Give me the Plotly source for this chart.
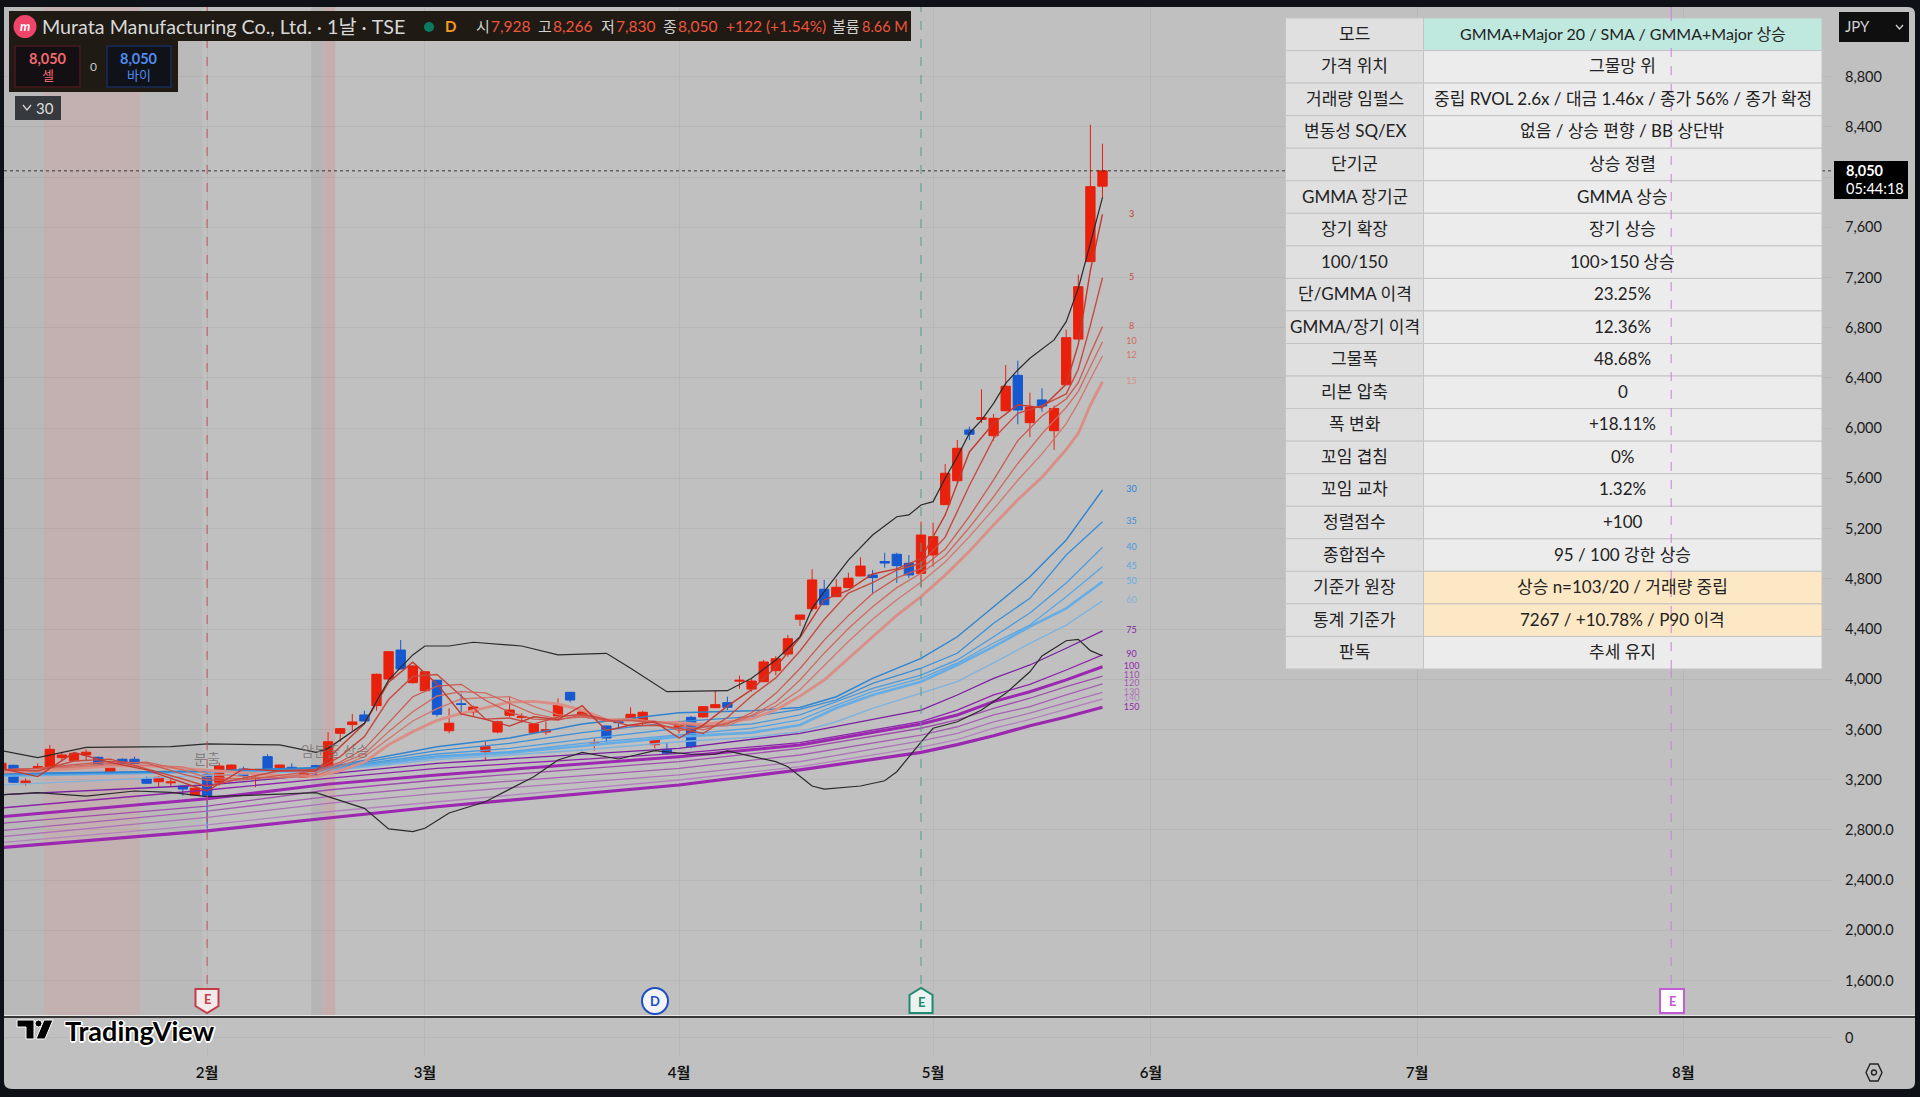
import plotly.graph_objects as go

W, H = 1920, 1097
BAR0_PX, BAR_STEP = 1.4, 12.1
FONT = "Lato, Noto Sans CJK KR, sans-serif"

# candles
opens = [3285, 3315, 3176, 3298, 3296, 3376, 3352, 3397, 3379, 3251, 3363, 3363, 3206, 3184, 3175, 3150, 3078, 3238,
         3180, 3278, 3285, 3208, 3384, 3296, 3299, 3219, 3312, 3296, 3570, 3639, 3716, 3790, 4002, 4233, 3973, 3909,
         3992, 3590, 3805, 3740, 3423, 3580, 3713, 3695, 3575, 3580, 3708, 3896, 3705, 3493, 3628, 3662, 3681, 3662,
         3479, 3442, 3618, 3697, 3700, 3774, 3814, 3985, 3922, 3981, 4069, 4201, 4478, 4562, 4717, 4658, 4730, 4823,
         4831, 4938, 4996, 4924, 4844, 4990, 5391, 5582, 5986, 6070, 5940, 6139, 6421, 6044, 6225, 5980, 6346, 6710,
         7327, 7928]
highs = [3345, 3320, 3211, 3331, 3476, 3423, 3415, 3442, 3384, 3295, 3370, 3384, 3224, 3228, 3204, 3155, 3140, 3251,
         3336, 3320, 3304, 3264, 3403, 3320, 3331, 3291, 3320, 3578, 3612, 3724, 3750, 4045, 4225, 4313, 4112, 4065,
         3995, 3769, 3885, 3790, 3503, 3670, 3857, 3729, 3650, 3662, 3849, 3900, 3761, 3530, 3632, 3689, 3777, 3750,
         3525, 3498, 3670, 3708, 3785, 3909, 3861, 4029, 4008, 4154, 4185, 4353, 4512, 4876, 4791, 4797, 4849, 4972,
         4871, 5008, 5008, 4990, 5255, 5247, 5715, 5906, 6012, 6310, 6113, 6503, 6538, 6283, 6318, 6180, 6785, 7223,
         8417, 8266]
lows = [3270, 3175, 3153, 3272, 3290, 3357, 3345, 3357, 3300, 3245, 3309, 3320, 3168, 3144, 3150, 3073, 3075, 2810,
        3153, 3270, 3200, 3140, 3275, 3278, 3275, 3215, 3238, 3238, 3503, 3590, 3665, 3750, 4000, 4082, 3965, 3905,
        3702, 3570, 3713, 3708, 3349, 3570, 3700, 3654, 3570, 3556, 3670, 3817, 3697, 3431, 3495, 3602, 3676, 3636,
        3450, 3397, 3570, 3450, 3695, 3770, 3755, 3925, 3901, 3978, 4034, 4180, 4425, 4540, 4594, 4655, 4728, 4820,
        4677, 4889, 4767, 4807, 4738, 4897, 5388, 5564, 5906, 6042, 5900, 6135, 6031, 5930, 6132, 5827, 6343, 6705,
        7325, 7830]
closes = [3331, 3180, 3190, 3304, 3442, 3397, 3410, 3419, 3304, 3291, 3331, 3331, 3172, 3219, 3182, 3126, 3132, 3073,
          3309, 3317, 3232, 3213, 3278, 3317, 3283, 3251, 3278, 3503, 3607, 3660, 3668, 4040, 4220, 4082, 4106, 4060,
          3721, 3650, 3800, 3779, 3463, 3662, 3755, 3703, 3644, 3599, 3795, 3835, 3740, 3497, 3532, 3655, 3721, 3737,
          3525, 3410, 3660, 3463, 3782, 3798, 3777, 3992, 3986, 4138, 4164, 4323, 4512, 4791, 4594, 4733, 4805, 4902,
          4810, 4926, 4905, 4831, 5149, 5136, 5641, 5840, 5952, 6085, 6079, 6334, 6145, 6166, 6177, 6157, 6721, 7127,
          7924, 8050]
bars = list(range(len(closes)))

# short group
short_bars = [0, 3, 6, 9, 12, 15, 17, 20, 23, 26, 28, 30, 32, 34, 36, 38, 40, 42, 44, 46, 48, 50, 52, 54, 56, 58, 60,
              62, 64, 66, 68, 70, 72, 74, 76, 78, 80, 82, 84, 86, 88, 89, 90, 91]
ma3 = [3290, 3225, 3416, 3338, 3278, 3176, 3110, 3286, 3269, 3271, 3463, 3645, 3976, 4136, 3962, 3724, 3681, 3627,
       3701, 3679, 3790, 3590, 3636, 3661, 3532, 3635, 3786, 3918, 4096, 4333, 4632, 4711, 4839, 4880, 4962, 5309,
       5811, 6039, 6186, 6163, 6352, 6668, 7257, 7704]
ma5 = [3280, 3270, 3349, 3364, 3286, 3206, 3146, 3213, 3271, 3281, 3384, 3543, 3839, 4023, 4038, 3867, 3683, 3692,
       3645, 3699, 3723, 3680, 3629, 3634, 3611, 3568, 3696, 3867, 4011, 4225, 4477, 4687, 4770, 4870, 4924, 5132,
       5544, 5919, 6119, 6180, 6273, 6470, 6821, 7199]
ma8 = [3280, 3290, 3320, 3345, 3332, 3245, 3196, 3199, 3234, 3271, 3341, 3446, 3653, 3861, 3945, 3960, 3833, 3736,
       3682, 3675, 3717, 3668, 3672, 3655, 3592, 3619, 3644, 3733, 3888, 4086, 4312, 4507, 4684, 4808, 4883, 5037,
       5297, 5589, 5901, 6097, 6233, 6363, 6594, 6809]
ma10 = [3280, 3290, 3310, 3330, 3340, 3279, 3216, 3209, 3218, 3255, 3328, 3406, 3583, 3742, 3867, 3901, 3892, 3808,
        3724, 3685, 3698, 3676, 3672, 3664, 3631, 3598, 3653, 3713, 3817, 3994, 4208, 4404, 4577, 4730, 4845, 4984,
        5209, 5454, 5719, 5956, 6166, 6294, 6492, 6689]
ma12 = [3275, 3285, 3300, 3320, 3314, 3302, 3249, 3226, 3214, 3234, 3305, 3384, 3527, 3668, 3766, 3843, 3854, 3862,
        3785, 3719, 3702, 3667, 3678, 3665, 3642, 3630, 3630, 3709, 3786, 3917, 4110, 4301, 4479, 4634, 4773, 4935,
        5136, 5355, 5585, 5795, 6036, 6202, 6392, 6575]
ma15 = [3260, 3270, 3290, 3310, 3310, 3290, 3276, 3257, 3235, 3225, 3273, 3341, 3478, 3583, 3672, 3729, 3776, 3818,
        3824, 3803, 3754, 3678, 3679, 3658, 3654, 3640, 3662, 3685, 3756, 3866, 3994, 4168, 4340, 4510, 4658, 4830,
        5020, 5230, 5430, 5610, 5830, 5960, 6185, 6370]

# middle group
mid_bars = [0, 17, 27, 36, 42, 48, 56, 62, 66, 69, 72, 76, 79, 82, 85, 88, 91]
ma30 = [3250, 3270, 3300, 3463, 3532, 3644, 3734, 3750, 3775, 3861, 4008, 4167, 4339, 4578, 4817, 5110, 5508]
ma35 = [3245, 3268, 3295, 3431, 3490, 3575, 3662, 3702, 3760, 3836, 3968, 4088, 4207, 4446, 4645, 4990, 5255]
ma40 = [3240, 3265, 3290, 3405, 3450, 3522, 3610, 3644, 3716, 3822, 3928, 4034, 4154, 4339, 4528, 4767, 5051]
ma45 = [3235, 3262, 3285, 3389, 3423, 3490, 3557, 3610, 3676, 3795, 3901, 4008, 4130, 4289, 4432, 4658, 4897]
ma50 = [3232, 3260, 3282, 3379, 3415, 3469, 3543, 3575, 3636, 3771, 3875, 3981, 4114, 4260, 4419, 4565, 4777]
ma60 = [3158, 3235, 3270, 3360, 3397, 3437, 3503, 3538, 3583, 3662, 3769, 3888, 3981, 4130, 4287, 4432, 4624]

# long group
long_bars = [0, 17, 27, 36, 56, 66, 76, 79, 82, 85, 88, 91]
ma75 = [3080, 3158, 3246, 3331, 3450, 3570, 3755, 3875, 4008, 4114, 4247, 4385]
ma90 = [2975, 3118, 3211, 3291, 3410, 3495, 3662, 3755, 3875, 3960, 4074, 4194]
ma100 = [2906, 3048, 3165, 3238, 3384, 3476, 3644, 3716, 3822, 3901, 3995, 4100]
ma110 = [2853, 2990, 3118, 3198, 3344, 3450, 3610, 3676, 3769, 3849, 3941, 4026]
ma120 = [2794, 2950, 3065, 3144, 3291, 3397, 3556, 3622, 3716, 3782, 3875, 3963]
ma130 = [2746, 2900, 3012, 3092, 3238, 3344, 3510, 3570, 3660, 3730, 3815, 3896]
ma140 = [2700, 2840, 2945, 3025, 3198, 3304, 3460, 3520, 3610, 3680, 3760, 3843]
ma150 = [2659, 2792, 2895, 2985, 3158, 3278, 3418, 3480, 3550, 3630, 3700, 3777]

# bollinger
bb_up_bars = [0, 3, 7, 14, 17, 23, 26, 27, 30, 32, 34, 35, 37, 39, 43, 46, 50, 52, 55, 60, 62, 64, 66, 67, 68, 70, 72,
              74, 75, 76, 77, 78, 79, 80, 81, 82, 83, 84, 85, 86, 87, 88, 89, 90, 91]
bb_up = [3431, 3376, 3458, 3463, 3485, 3477, 3418, 3450, 3650, 3994, 4194, 4265, 4265, 4295, 4265, 4194, 4207, 4088,
         3901, 3909, 4008, 4154, 4340, 4565, 4698, 4950, 5149, 5295, 5309, 5388, 5415, 5601, 5773, 5960, 6065, 6198,
         6357, 6464, 6557, 6631, 6703, 6849, 7115, 7473, 7839]
bb_lo_bars = [0, 3, 7, 11, 14, 17, 22, 26, 27, 30, 32, 34, 35, 37, 40, 44, 46, 48, 51, 54, 57, 59, 60, 64, 65, 67, 68,
              71, 73, 74, 76, 77, 79, 81, 83, 85, 86, 88, 89, 90, 91]
bb_lo = [3081, 3097, 3070, 3110, 3100, 3065, 3081, 3097, 3065, 2972, 2808, 2786, 2813, 2935, 3025, 3224, 3357, 3418,
         3365, 3431, 3403, 3403, 3429, 3344, 3304, 3150, 3126, 3150, 3192, 3264, 3500, 3610, 3662, 3755, 3888, 4060,
         4186, 4307, 4318, 4228, 4188]

# axis ticks, 8000 sits behind the last price box
price_ticks = [8800, 8400, 8000, 7600, 7200, 6800, 6400, 6000, 5600, 5200, 4800, 4400, 4000, 3600, 3200, 2800, 2400,
               2000, 1600]
price_labels = ["8,800", "8,400", "", "7,600", "7,200", "6,800", "6,400", "6,000", "5,600", "5,200", "4,800",
                "4,400", "4,000", "3,600", "3,200", "2,800.0", "2,400.0", "2,000.0", "1,600.0"]
month_bars = [17, 35, 56, 77, 95, 117, 139]
month_labels = ["2월", "3월", "4월", "5월", "6월", "7월", "8월"]

table_labels = ["모드", "가격 위치", "거래량 임펄스", "변동성 SQ/EX", "단기군", "GMMA 장기군", "장기 확장", "100/150",
                "단/GMMA 이격", "GMMA/장기 이격", "그물폭", "리본 압축", "폭 변화", "꼬임 겹침", "꼬임 교차",
                "정렬점수", "종합점수", "기준가 원장", "통계 기준가", "판독"]
table_values = ["GMMA+Major 20 / SMA / GMMA+Major 상승", "그물망 위",
                "중립 RVOL 2.6x / 대금 1.46x / 종가 56% / 종가 확정", "없음 / 상승 편향 / BB 상단밖", "상승 정렬",
                "GMMA 상승", "장기 상승", "100>150 상승", "23.25%", "12.36%", "48.68%", "0", "+18.11%", "0%", "1.32%",
                "+100", "95 / 100 강한 상승", "상승 n=103/20 / 거래량 중립", "7267 / +10.78% / P90 이격", "추세 유지"]

fig = go.Figure()


def px(x):
    return x / W


def py(y):
    return 1 - y / H


shapes = []
notes = []


def box(x0, y0, x1, y1, fill, line=None, width=1, layer="above"):
    shapes.append(dict(type="rect", xref="paper", yref="paper", x0=px(x0), x1=px(x1), y0=py(y1), y1=py(y0),
                       fillcolor=fill, line=dict(color=line or fill, width=width if line else 0), layer=layer))


def path(points, fill=None, line=None, width=1, layer="above", close=True):
    d = "M " + " L ".join(f"{px(a):.5f},{py(b):.5f}" for a, b in points) + (" Z" if close else "")
    shapes.append(dict(type="path", xref="paper", yref="paper", path=d, fillcolor=fill or "rgba(0,0,0,0)",
                       line=dict(color=line or "rgba(0,0,0,0)", width=width), layer=layer))


def note(x, y, text, size=15, color="#222222", anchor="left", **kw):
    notes.append(dict(xref="paper", yref="paper", x=px(x), y=py(y), text=text, showarrow=False, xanchor=anchor,
                      yanchor="middle", font=dict(family=FONT, size=size, color=color, **kw)))


# background card
shapes.append(dict(type="path", xref="paper", yref="paper", layer="below", fillcolor="#c0c0c0", line=dict(width=0),
                   path=f"M {px(12)},{py(7)} L {px(1908)},{py(7)} Q {px(1915)},{py(7)} {px(1915)},{py(14)} "
                        f"L {px(1915)},{py(1082)} Q {px(1915)},{py(1089)} {px(1908)},{py(1089)} "
                        f"L {px(12)},{py(1089)} Q {px(4)},{py(1089)} {px(4)},{py(1082)} "
                        f"L {px(4)},{py(14)} Q {px(4)},{py(7)} {px(12)},{py(7)} Z"))

# session bands
band_starts = [0.2, 3.5, 11.5, 25.6, 26.6]
band_ends = [3.5, 11.5, 16.6, 26.6, 27.6]
band_colors = ["#b9b9b9", "#c3b0b0", "#bababa", "#b5b5b5", "#c7aeae"]
for a, b, c in zip(band_starts, band_ends, band_colors):
    shapes.append(dict(type="rect", xref="x", yref="y domain", x0=a, x1=b, y0=0, y1=1, fillcolor=c,
                       line=dict(width=0), layer="below"))

fig.add_trace(go.Candlestick(x=bars, open=opens, high=highs, low=lows, close=closes,
                             increasing=dict(line=dict(color="#e8200c", width=1), fillcolor="#e8200c"),
                             decreasing=dict(line=dict(color="#1558d0", width=1), fillcolor="#1558d0"),
                             whiskerwidth=0, hoverinfo="skip"))

series = [
    (long_bars, ma150, "150", "#9c27b0", 3.2), (long_bars, ma140, "140", "#b582c0", 1.3),
    (long_bars, ma130, "130", "#ae72b9", 1.3), (long_bars, ma120, "120", "#a75fb3", 1.3),
    (long_bars, ma110, "110", "#a04dad", 1.3), (long_bars, ma100, "100", "#9c27b0", 3.0),
    (long_bars, ma90, "90", "#8e24aa", 1.3), (long_bars, ma75, "75", "#7b1fa2", 1.3),
    (mid_bars, ma60, "60", "#7fb3de", 1.4), (mid_bars, ma50, "50", "#66ade6", 2.6),
    (mid_bars, ma45, "45", "#5aa6e2", 1.3), (mid_bars, ma40, "40", "#4a9ade", 1.3),
    (mid_bars, ma35, "35", "#3a8ed8", 1.3), (mid_bars, ma30, "30", "#2e84d0", 1.4),
    (short_bars, ma15, "15", "#d98f86", 2.9), (short_bars, ma12, "12", "#d3766e", 1.3),
    (short_bars, ma10, "10", "#cf6a60", 1.3), (short_bars, ma8, "8", "#cb5a50", 1.3),
    (short_bars, ma5, "5", "#c84a40", 1.4), (short_bars, ma3, "3", "#c43a30", 1.4),
]
for xs, ys, name, color, lw in series:
    fig.add_trace(go.Scatter(x=xs, y=ys, mode="lines", line=dict(color=color, width=lw), hoverinfo="skip"))

fig.add_trace(go.Scatter(x=bb_up_bars, y=bb_up, mode="lines", line=dict(color="#2a2a2a", width=1.2), hoverinfo="skip"))
fig.add_trace(go.Scatter(x=bb_lo_bars, y=bb_lo, mode="lines", line=dict(color="#2a2a2a", width=1.2), hoverinfo="skip"))

# length tags right of the lines
fig.add_trace(go.Scatter(x=[93.4] * len(series), y=[s[1][-1] for s in series], mode="text",
                         text=[s[2] for s in series], textposition="middle center", hoverinfo="skip",
                         textfont=dict(family=FONT, size=9, color=[s[3] for s in series])))

# empty lower pane needs something on its axes
fig.add_trace(go.Scatter(x=[0], y=[0], xaxis="x2", yaxis="y2", mode="markers", marker=dict(opacity=0),
                         hoverinfo="skip"))

# event lines
event_bars = [17, 76, 138]
event_colors = ["#c4505a", "#4f9d8e", "#cf7bdf"]
for b, c in zip(event_bars, event_colors):
    shapes.append(dict(type="line", xref="x", yref="paper", x0=b, x1=b, y0=py(984), y1=py(7),
                       line=dict(color=c, width=1, dash="dash"), layer="above"))

# last price line
shapes.append(dict(type="line", xref="paper", yref="y", x0=px(4), x1=px(1833), y0=closes[-1], y1=closes[-1],
                   line=dict(color="#333333", width=1, dash="dot"), layer="above"))

# table
TX0, TX1, TX2 = 1285.5, 1423.5, 1822
TY0, ROW = 18, 32.55
for i, (lab, val) in enumerate(zip(table_labels, table_values)):
    y0 = TY0 + i * ROW
    y1 = y0 + ROW
    val_fill = "#bfe8de" if i == 0 else "#fce8c4" if i in (17, 18) else "#ececec"
    box(TX0, y0, TX1, y1, "#e0e0e0", "#c4c4c4", 1)
    box(TX1, y0, TX2, y1, val_fill, "#c4c4c4", 1)
    note((TX0 + TX1) / 2, y0 + ROW / 2 - 1, lab, size=17, anchor="center")
    note((TX1 + TX2) / 2, y0 + ROW / 2 - 1, val, size=16 if i == 0 else 17, anchor="center")
shapes.append(dict(type="line", xref="x", yref="paper", x0=138, x1=138, y0=py(669), y1=py(7),
                   line=dict(color="#cf7bdf", width=1, dash="dash"), layer="above"))

# legend strip
box(9, 11, 911, 41, "#1f1a14")
box(9, 41, 178, 92, "#1f1a14")
shapes.append(dict(type="circle", xref="paper", yref="paper", x0=px(13.5), x1=px(36.5), y0=py(38), y1=py(15),
                   fillcolor="#f0456b", line=dict(width=0), layer="above"))
note(25, 26.5, "<i><b>m</b></i>", size=13, color="#ffffff", anchor="center")
note(40, 26.5, "Murata Manufacturing Co., Ltd. · 1날 · TSE", size=19.7, color="#d8d8d8")
shapes.append(dict(type="circle", xref="paper", yref="paper", x0=px(424), x1=px(434), y0=py(32), y1=py(22),
                   fillcolor="#0a7a60", line=dict(width=0), layer="above"))
note(450, 26.5, "<b>D</b>", size=15, color="#f59a23", anchor="center")
ohlc_letters = ["시", "고", "저", "종"]
ohlc_text = ["7,928", "8,266", "7,830", "8,050"]
ohlc_px = [474, 536, 599, 661]
for a, t, x in zip(ohlc_letters, ohlc_text, ohlc_px):
    note(x, 26.5, a, size=15, color="#d0d0d0")
    note(x + 15, 26.5, t, size=15.5, color="#f0553c")
note(724, 26.5, "+122 (+1.54%)", size=15.5, color="#f0553c")
note(830, 26.5, "볼륨", size=15, color="#d0d0d0")
note(860, 26.5, "8.66 M", size=14.5, color="#f0553c")

box(15, 46, 80, 87, "#140f12", "#4a1a1f", 1.5)
box(107, 46, 171, 87, "#0f1218", "#1a2d5a", 1.5)
note(47.5, 59, "<b>8,050</b>", size=14.5, color="#f06a70", anchor="center")
note(47.5, 75, "셀", size=13, color="#f06a70", anchor="center")
note(139, 59, "<b>8,050</b>", size=14.5, color="#4f8cf0", anchor="center")
note(139, 75, "바이", size=13, color="#4f8cf0", anchor="center")
note(93, 66, "0", size=12, color="#c8c8c8", anchor="center")

box(15, 96, 61, 120, "#36393d")
path([(23, 105), (27, 110), (31, 105)], line="#d8d8d8", width=1.3, close=False)
note(34, 108, "30", size=15, color="#dddddd")

# price axis overlays
box(1839, 12, 1909, 42, "#0f0f10")
note(1843, 26.5, "JPY", size=15, color="#d0d0d0")
path([(1896, 25), (1899.5, 29), (1903, 25)], line="#d0d0d0", width=1.3, close=False)
box(1834, 161, 1908, 199, "#000000")
note(1844, 171, "<b>8,050</b>", size=14.5, color="#ffffff")
note(1844, 188, "05:44:18", size=14.5, color="#ffffff")

# pane divider
shapes.append(dict(type="line", xref="paper", yref="paper", x0=px(4), x1=px(1915), y0=py(1015.5), y1=py(1015.5),
                   line=dict(color="#e8e8e8", width=1), layer="above"))
shapes.append(dict(type="line", xref="paper", yref="paper", x0=px(4), x1=px(1915), y0=py(1017), y1=py(1017),
                   line=dict(color="#0a0a0a", width=1.6), layer="above"))

# event flags
path([(195.5, 989), (218.5, 989), (218.5, 1006), (207, 1013), (195.5, 1006)], fill="#f3eaea", line="#c43b4a", width=2)
note(207, 999, "<b>E</b>", size=13, color="#c43b4a", anchor="center")
path([(909.5, 1013), (932.5, 1013), (932.5, 995), (921, 988), (909.5, 995)], fill="#eaf3f0", line="#1f8a70", width=2)
note(921, 1002, "<b>E</b>", size=13, color="#1f8a70", anchor="center")
box(1660, 989, 1684, 1013, "#ffffff", "#c45ad6", 2)
note(1672, 1001, "<b>E</b>", size=13, color="#c45ad6", anchor="center")
shapes.append(dict(type="circle", xref="paper", yref="paper", x0=px(642), x1=px(668), y0=py(1014), y1=py(988),
                   fillcolor="#f2f4fa", line=dict(color="#1f4fbf", width=2), layer="above"))
note(655, 1001, "<b>D</b>", size=13, color="#1f4fbf", anchor="center")

# signal words on the chart
note(207, 759, "분출", size=14, color="rgba(110,110,110,0.8)", anchor="center")
note(335, 750, "암분출 상승", size=14, color="rgba(120,110,110,0.75)", anchor="center")

# watermark
halo = "-1px -1px 0 #fff, 1px -1px 0 #fff, -1px 1px 0 #fff, 1px 1px 0 #fff, 0 2px 0 #fff, 2px 0 0 #fff"
path([(17, 1020), (34, 1020), (34, 1039), (26, 1039), (26, 1027), (17, 1027)], fill="#000000", line="#ffffff", width=1)
shapes.append(dict(type="circle", xref="paper", yref="paper", x0=px(35), x1=px(42), y0=py(1027), y1=py(1020),
                   fillcolor="#000000", line=dict(color="#ffffff", width=1), layer="above"))
path([(44, 1020), (53, 1020), (45, 1039), (36, 1039)], fill="#000000", line="#ffffff", width=1)
note(63, 1030, "<b>TradingView</b>", size=27, color="#000000", shadow=halo)

# settings glyph
path([(1866, 1072.5), (1870, 1064), (1878, 1064), (1882, 1072.5), (1878, 1081), (1870, 1081)], line="#222222",
     width=1.4)
shapes.append(dict(type="circle", xref="paper", yref="paper", x0=px(1871.5), x1=px(1876.5), y0=py(1075), y1=py(1070),
                   line=dict(color="#222222", width=1.4), layer="above"))

grid = "rgba(0,0,0,0.045)"
x_range = [(4 - BAR0_PX) / BAR_STEP, (1833 - BAR0_PX) / BAR_STEP]
fig.update_layout(
    width=W, height=H, margin=dict(l=0, r=0, t=0, b=0), autosize=False,
    paper_bgcolor="#0e1115", plot_bgcolor="rgba(0,0,0,0)", showlegend=False, boxgap=0.23, boxgroupgap=0,
    font=dict(family=FONT, size=14, color="#1a1a1a"),
    xaxis=dict(domain=[px(4), px(1833)], range=x_range, anchor="y", showticklabels=False, tickvals=month_bars,
               showgrid=True, gridcolor=grid, zeroline=False, showline=False, ticks="", rangeslider=dict(visible=False)),
    yaxis=dict(domain=[py(1016), py(7)], range=[1318, 9355], side="right", anchor="x", tickvals=price_ticks,
               ticktext=price_labels, showgrid=True, gridcolor=grid, zeroline=False, showline=False, ticks="",
               ticklabelstandoff=11, tickfont=dict(family=FONT, size=14.5, color="#1a1a1a")),
    xaxis2=dict(domain=[px(4), px(1833)], range=x_range, anchor="y2", tickvals=month_bars, ticktext=month_labels,
                showgrid=True, gridcolor=grid, zeroline=False, showline=False, ticks="", ticklabelstandoff=5,
                tickfont=dict(family=FONT, size=15, color="#111111", weight=600)),
    yaxis2=dict(domain=[py(1057), py(1018)], range=[-1, 1], side="right", anchor="x2", tickvals=[0], ticktext=["0"],
                showgrid=True, gridcolor=grid, zeroline=False, showline=False, ticks="", ticklabelstandoff=11,
                tickfont=dict(family=FONT, size=14.5, color="#1a1a1a")),
    shapes=shapes, annotations=notes,
)

fig.write_html("out.html", config=dict(displayModeBar=False),
               post_script="document.body.style.margin='0';document.body.style.overflow='hidden';")
